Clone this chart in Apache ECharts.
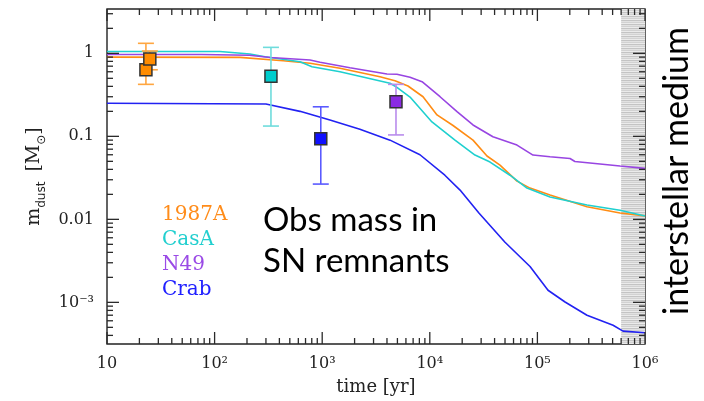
<!DOCTYPE html>
<html>
<head>
<meta charset="utf-8">
<script src="https://cdn.jsdelivr.net/npm/echarts@6/dist/echarts.min.js"></script>
<style>
  html, body { margin: 0; padding: 0; background: #fff; }
  #wrap { position: relative; width: 704px; height: 401px; }
  #chart, #frame { position: absolute; left: 0; top: 0; width: 704px; height: 401px; }
  #frame { pointer-events: none; }
</style>
</head>
<body>
<div id="wrap">
  <div id="chart"></div>
  <div id="frame"></div>
</div>
<script>
// Dust mass evolution in supernova remnants (time in yr, mass in solar masses)
const remnantNames = ['1987A', 'CasA', 'N49', 'Crab'];

const years1987A = [10, 172, 433, 771, 1463, 3442, 4750, 6270, 8650, 11670, 16440, 25200, 34000, 44900, 64600, 85400, 131000, 289000, 586000, 1000000];
const mass1987A  = [0.90, 0.895, 0.814, 0.758, 0.66, 0.523, 0.468, 0.404, 0.30, 0.181, 0.135, 0.090, 0.058, 0.0451, 0.0289, 0.0238, 0.0196, 0.0142, 0.0119, 0.0110];

const yearsCasA = [10, 112, 213, 294, 622, 804, 1463, 4265, 4950, 6550, 10470, 17140, 26300, 36300, 55600, 80000, 131000, 289000, 586000, 1000000];
const massCasA  = [1.05, 1.05, 0.98, 0.91, 0.79, 0.69, 0.60, 0.436, 0.389, 0.297, 0.149, 0.090, 0.0595, 0.049, 0.034, 0.0238, 0.0186, 0.0149, 0.0129, 0.0110];

const yearsN49 = [10, 75, 210, 330, 771, 955, 1811, 4000, 4950, 6550, 8470, 12450, 17900, 25200, 38600, 64600, 91000, 131000, 201000, 223000, 382000, 586000, 1000000];
const massN49  = [0.97, 0.97, 0.95, 0.89, 0.83, 0.78, 0.67, 0.563, 0.56, 0.514, 0.455, 0.300, 0.198, 0.137, 0.099, 0.0785, 0.0595, 0.0568, 0.054, 0.0497, 0.0464, 0.0439, 0.0411];

const yearsCrab = [10, 300, 622, 1180, 2240, 4270, 8100, 13800, 19100, 28600, 50000, 85400, 125500, 180700, 289000, 505000, 625000, 1000000];
const massCrab  = [0.25, 0.245, 0.20, 0.157, 0.122, 0.090, 0.060, 0.034, 0.0225, 0.0119, 0.0053, 0.0027, 0.0014, 0.00101, 0.0007, 0.00053, 0.00045, 0.00043];

// Observed dust masses with error ranges
const obsRemnant = ['1987A', '1987A', 'CasA', 'Crab', 'N49'];
const obsYears   = [23, 25, 334, 970, 4850];
const obsMass    = [0.634, 0.854, 0.53, 0.0935, 0.261];
const obsLow     = [0.423, 0.634, 0.133, 0.0266, 0.104];
const obsHigh    = [1.32, 1.066, 1.18, 0.227, 0.423];

// Interstellar medium band (yr)
const ismBand = [600000, 1000000];

// Axis ranges and tick labels
const xRange = [10, 1000000];
const yRange = [0.000315, 3.42];
const xTickLabels = { '1': '10', '2': '10²', '3': '10³', '4': '10⁴', '5': '10⁵', '6': '10⁶' };
const yTickLabels = { '0': '1', '-1': '0.1', '-2': '0.01', '-3': '10⁻³' };

const lineColors   = { '1987A': '#ff8c14', 'CasA': '#1fd0cf', 'N49': '#9845e2', 'Crab': '#2222f2' };
const squareColors = { '1987A': '#ff8c00', 'CasA': '#00cdcd', 'N49': '#8a2be2', 'Crab': '#1010ff' };
const barColors    = { '1987A': '#ffa640', 'CasA': '#6fdcdc', 'N49': '#b98cec', 'Crab': '#5a5aff' };
const textColors   = { '1987A': '#ff8c1a', 'CasA': '#22cfcf', 'N49': '#9a4ae6', 'Crab': '#2020ff' };

const GRID = { left: 107, right: 59, top: 9, bottom: 57 };

function pairs(xs, ys) { return xs.map((x, i) => [x, ys[i]]); }

// Log tick positions: j * 10^k
function logTicks(lo, hi) {
  const out = [];
  for (let k = Math.floor(Math.log10(lo)); k <= Math.ceil(Math.log10(hi)); k++) {
    for (let j = 1; j <= 9; j++) {
      const v = j * Math.pow(10, k);
      if (v >= lo * 0.9999 && v <= hi * 1.0001) out.push(v);
    }
  }
  return out;
}
function isDecade(v) {
  const e = Math.log10(v);
  return Math.abs(e - Math.round(e)) < 1e-6;
}
function decadeLabel(map, v) {
  return isDecade(v) ? (map[String(Math.round(Math.log10(v)))] || '') : '';
}

// Striped fill for the interstellar medium band
const stripe = document.createElement('canvas');
stripe.width = 4; stripe.height = 4;
(function () {
  const c = stripe.getContext('2d');
  const rows = ['#c4c4c4', '#e2e2e2', '#d2d2d2', '#ebebeb'];
  rows.forEach((col, i) => { c.fillStyle = col; c.fillRect(0, i, 4, 1); });
})();

const TICK = '#2a2a2a';
function tickLine(x1, y1, x2, y2) {
  return { type: 'line', shape: { x1: x1, y1: y1, x2: x2, y2: y2 }, style: { stroke: TICK, lineWidth: 1.3 } };
}

const xTickValues = logTicks(xRange[0], xRange[1]);
const yTickValues = logTicks(yRange[0], yRange[1]);

const lineSeries = [
  ['1987A', years1987A, mass1987A],
  ['CasA', yearsCasA, massCasA],
  ['N49', yearsN49, massN49],
  ['Crab', yearsCrab, massCrab]
].map(([name, xs, ys]) => ({
  name,
  type: 'line',
  data: pairs(xs, ys),
  showSymbol: false,
  symbol: 'none',
  smooth: false,
  lineStyle: { color: lineColors[name], width: 1.6 },
  itemStyle: { color: lineColors[name] },
  z: 3,
  silent: true
}));

const errData = obsYears.map((t, i) => [t, obsLow[i], obsHigh[i]]);
const sqData = obsYears.map((t, i) => ({
  value: [t, obsMass[i]],
  itemStyle: { color: squareColors[obsRemnant[i]] }
}));

// ---------- main plot: curves, observations, labels ----------
const chart = echarts.init(document.getElementById('chart'));

chart.setOption({
  animation: false,
  backgroundColor: '#ffffff',
  grid: Object.assign({
    show: true, borderColor: '#222', borderWidth: 1.4, backgroundColor: 'transparent'
  }, GRID),
  legend: {
    orient: 'vertical',
    left: 152, top: 200,
    icon: 'none',
    itemWidth: 0, itemHeight: 20, itemGap: 5,
    selectedMode: false,
    textStyle: { fontFamily: 'DejaVu Serif', fontSize: 20 },
    data: remnantNames.map(n => ({ name: n, textStyle: { color: textColors[n] } }))
  },
  xAxis: {
    type: 'log', logBase: 10, min: xRange[0], max: xRange[1],
    splitLine: { show: false }, axisLine: { show: false }, axisTick: { show: false },
    axisLabel: {
      margin: 12,
      fontFamily: 'DejaVu Serif', fontSize: 16, color: '#222',
      formatter: v => decadeLabel(xTickLabels, v)
    },
    name: 'time [yr]',
    nameLocation: 'middle', nameGap: 34,
    nameTextStyle: { fontFamily: 'DejaVu Serif', fontSize: 18, color: '#222' }
  },
  yAxis: {
    type: 'log', logBase: 10, min: yRange[0], max: yRange[1],
    splitLine: { show: false }, axisLine: { show: false }, axisTick: { show: false },
    axisLabel: {
      margin: 13,
      fontFamily: 'DejaVu Serif', fontSize: 16, color: '#222',
      formatter: v => decadeLabel(yTickLabels, v)
    },
    name: '{m|m}{sub|dust}   {m|[M}{sun|⊙}{m|]}',
    nameLocation: 'middle', nameGap: 56, nameRotate: 90,
    nameTextStyle: {
      color: '#222',
      rich: {
        m: { fontFamily: 'DejaVu Serif', fontSize: 19, color: '#222', lineHeight: 26, verticalAlign: 'middle' },
        sub: { fontFamily: 'DejaVu Sans', fontSize: 12, color: '#222', lineHeight: 14, verticalAlign: 'bottom' },
        sun: { fontFamily: 'DejaVu Sans', fontSize: 12, color: '#222', lineHeight: 14, verticalAlign: 'bottom' }
      }
    }
  },
  series: [
    // interstellar medium band
    {
      name: 'ism',
      type: 'line',
      data: [],
      silent: true,
      markArea: {
        silent: true,
        itemStyle: { color: { image: stripe, repeat: 'repeat' }, opacity: 1 },
        data: [[{ xAxis: ismBand[0] }, { xAxis: ismBand[1] }]]
      }
    },
    ...lineSeries,
    // error bars
    {
      name: 'obs-err',
      type: 'custom',
      coordinateSystem: 'cartesian2d',
      data: errData,
      silent: true,
      z: 6,
      renderItem: (params, api) => {
        const col = barColors[obsRemnant[params.dataIndex]];
        const t = api.value(0);
        const lo = api.coord([t, api.value(1)]);
        const hi = api.coord([t, api.value(2)]);
        const w = 8;
        const st = { stroke: col, lineWidth: 1.6 };
        return { type: 'group', children: [
          { type: 'line', shape: { x1: lo[0], y1: lo[1], x2: hi[0], y2: hi[1] }, style: st },
          { type: 'line', shape: { x1: lo[0] - w, y1: lo[1], x2: lo[0] + w, y2: lo[1] }, style: st },
          { type: 'line', shape: { x1: hi[0] - w, y1: hi[1], x2: hi[0] + w, y2: hi[1] }, style: st }
        ] };
      }
    },
    // observed masses
    {
      name: 'obs',
      type: 'scatter',
      data: sqData,
      symbol: 'rect',
      symbolSize: 12,
      itemStyle: { borderColor: '#333', borderWidth: 1.5, opacity: 1 },
      silent: true,
      z: 7
    }
  ]
});

// annotations
chart.setOption({
  graphic: [
    {
      type: 'text', x: 263, y: 241,
      style: {
        text: 'Obs mass in\nSN remnants',
        font: '33px Lato', fill: '#000', lineHeight: 41,
        align: 'left', verticalAlign: 'middle'
      }
    },
    {
      type: 'text', x: 677, y: 171, rotation: Math.PI / 2,
      style: {
        text: 'interstellar medium',
        font: '34px Lato', fill: '#000',
        align: 'center', verticalAlign: 'middle'
      }
    }
  ]
});

// ---------- frame layer: major and minor ticks on all four edges ----------
const frame = echarts.init(document.getElementById('frame'));
frame.setOption({
  animation: false,
  grid: Object.assign({ show: false }, GRID),
  xAxis: {
    type: 'log', logBase: 10, min: xRange[0], max: xRange[1],
    splitLine: { show: false }, axisLine: { show: false }, axisTick: { show: false }, axisLabel: { show: false }
  },
  yAxis: {
    type: 'log', logBase: 10, min: yRange[0], max: yRange[1],
    splitLine: { show: false }, axisLine: { show: false }, axisTick: { show: false }, axisLabel: { show: false }
  },
  series: [
    {
      name: 'xticks',
      type: 'custom',
      coordinateSystem: 'cartesian2d',
      data: xTickValues.map(v => [v, 0.1, v]),
      silent: true,
      renderItem: (params, api) => {
        const v = xTickValues[params.dataIndex];
        const cs = params.coordSys;
        const x = api.coord([v, 0.1])[0];
        const len = isDecade(v) ? 12 : 6;
        return { type: 'group', children: [
          tickLine(x, cs.y + cs.height, x, cs.y + cs.height - len),
          tickLine(x, cs.y, x, cs.y + len)
        ] };
      }
    },
    {
      name: 'yticks',
      type: 'custom',
      coordinateSystem: 'cartesian2d',
      data: yTickValues.map(v => [100, v, v]),
      silent: true,
      renderItem: (params, api) => {
        const v = yTickValues[params.dataIndex];
        const cs = params.coordSys;
        const y = api.coord([100, v])[1];
        const len = isDecade(v) ? 12 : 6;
        return { type: 'group', children: [
          tickLine(cs.x, y, cs.x + len, y),
          tickLine(cs.x + cs.width, y, cs.x + cs.width - len, y)
        ] };
      }
    }
  ]
});
</script>
</body>
</html>
